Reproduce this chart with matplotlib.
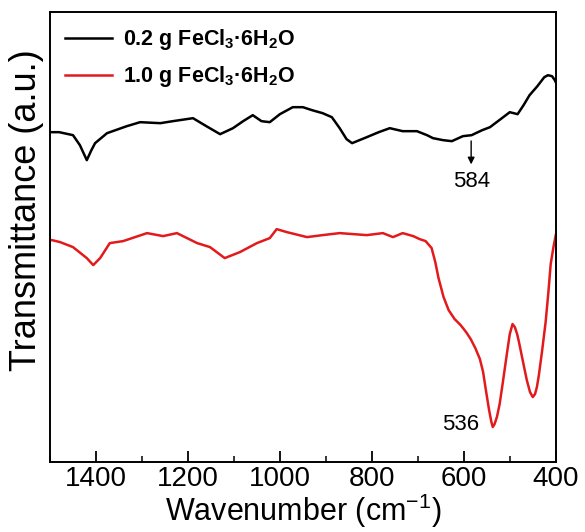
import numpy as np
import matplotlib
matplotlib.use("Agg")
import matplotlib.pyplot as plt
from matplotlib.ticker import MultipleLocator

plt.rcParams['font.family'] = ['Liberation Sans', 'DejaVu Sans']
plt.rcParams['mathtext.fontset'] = 'custom'
plt.rcParams['mathtext.rm'] = 'Liberation Sans'
plt.rcParams['mathtext.bf'] = 'Liberation Sans:bold'

# black: 0.2 g sample (wavenumber, transmittance a.u.)
wn_02 = [1500, 1480, 1450, 1435, 1420, 1410, 1402, 1376, 1333, 1304, 1260, 1233,
         1189, 1160, 1130, 1102, 1080, 1059, 1040, 1022, 1000, 972, 950, 930, 907,
         887, 870, 855, 843, 811, 785, 761, 733, 702, 680, 667, 645, 626, 602, 583,
         560, 543, 520, 500, 483, 470, 457, 440, 425, 417, 408, 402, 400]
t_02 = [330, 330, 327, 317, 302, 312, 319, 329, 336, 340, 339, 341,
        344, 336, 328, 334, 341, 347, 341, 340, 348, 355, 355, 352, 349,
        345, 334, 323, 319, 325, 330, 334, 331, 331, 327, 324, 322, 321, 326, 327,
        332, 335, 343, 350, 348, 357, 367, 376, 385, 387, 386, 382, 380]

# red: 1.0 g sample
wn_10 = [1500, 1496, 1478, 1450, 1420, 1406, 1391, 1370, 1341, 1289, 1254, 1224,
         1180, 1152, 1120, 1087, 1050, 1022, 1007, 985, 941, 907, 870, 811, 776,
         754, 733, 710, 696, 683, 670, 662, 655, 644, 633, 620, 607, 595, 585, 575,
         565, 558, 552, 545, 540, 537, 533, 528, 522, 515, 507, 500, 494, 489, 484,
         480, 472, 463, 456, 450, 445, 441, 437, 430, 422, 416, 411, 405, 400]
t_10 = [222, 222, 220, 215, 204, 197, 204, 219, 221, 229, 226, 229,
        219, 215, 204, 210, 219, 224, 233, 230, 225, 227, 229, 227, 229,
        225, 229, 226, 223, 221, 214, 200, 184, 165, 152, 143, 137, 130, 123, 114,
        103, 90, 72, 52, 40, 35, 38, 45, 58, 80, 106, 128, 138, 135, 128,
        120, 102, 82, 70, 65, 68, 75, 86, 110, 140, 170, 198, 215, 227]

fig = plt.figure(figsize=(5.85, 5.32), dpi=100)
ax = fig.add_axes([0.0855, 0.1316, 0.8645, 0.8454])

ax.plot(wn_02, t_02, color='black', lw=1.8,
        label=r'0.2 g FeCl$_\mathbf{3}$·6H$_\mathbf{2}$O')
ax.plot(wn_10, t_10, color='#e31a1c', lw=1.8,
        label=r'1.0 g FeCl$_\mathbf{3}$·6H$_\mathbf{2}$O')

ax.annotate('', xy=(584, 295), xytext=(584, 324),
            arrowprops=dict(arrowstyle='-|>', color='black', lw=1, mutation_scale=10))
ax.text(582, 281, '584', fontsize=16, ha='center', va='center')
ax.text(566, 38, '536', fontsize=16, ha='right', va='center')

ax.set_xlim(1500, 400)
ax.set_ylim(0, 450)
ax.xaxis.set_major_locator(MultipleLocator(200))
ax.xaxis.set_minor_locator(MultipleLocator(100))
ax.tick_params(axis='x', which='major', direction='in', length=8, width=1.3, labelsize=20, pad=3)
ax.tick_params(axis='x', which='minor', direction='in', length=4, width=1.1)
ax.set_yticks([])
for s in ax.spines.values():
    s.set_linewidth(1.4)

ax.set_xlabel(r'Wavenumber (cm$^{-1}$)', fontsize=22, labelpad=0)
ax.set_ylabel('Transmittance (a.u.)', fontsize=26)
ax.yaxis.set_label_coords(-0.012, 0.56)

leg = ax.legend(loc='upper left', frameon=False, prop={'weight': 'bold', 'size': 15.5},
                handlelength=2.2, handletextpad=0.5, labelspacing=0.55,
                borderaxespad=0.3)

fig.savefig('out.png', dpi=100)
